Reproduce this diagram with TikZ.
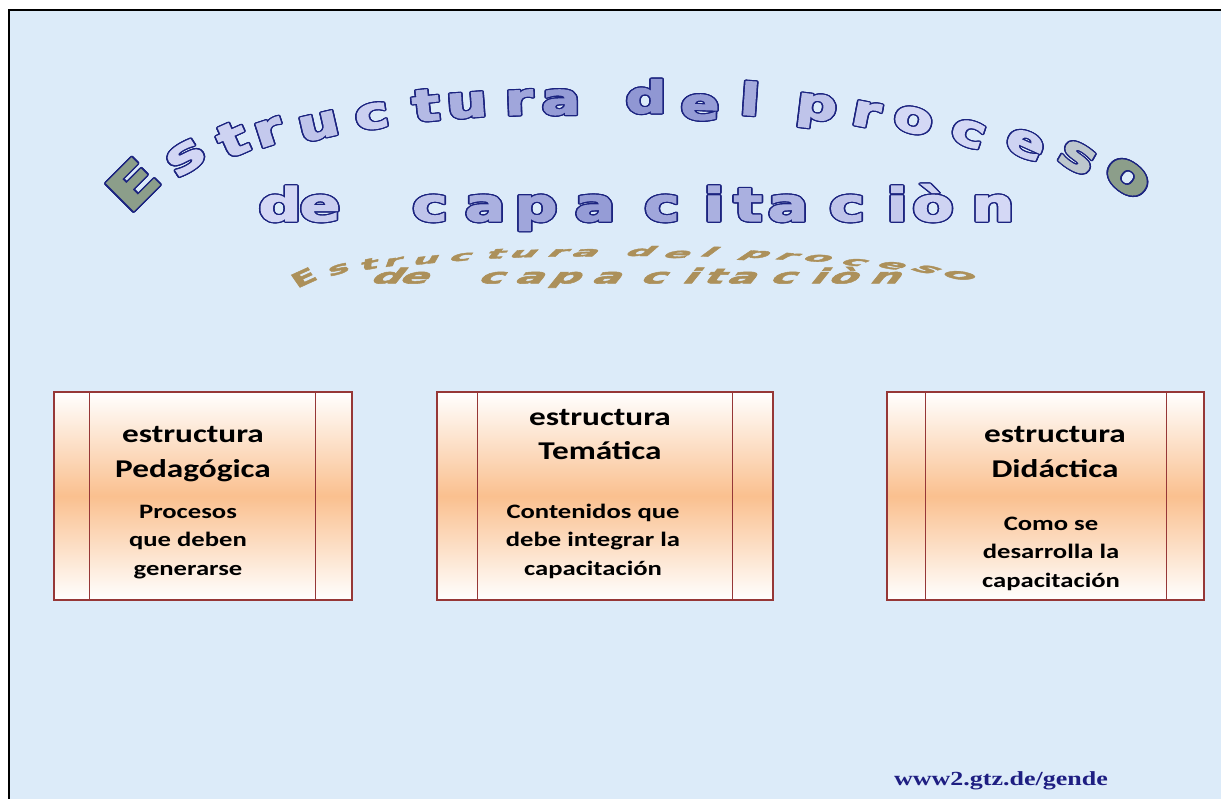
\documentclass[tikz,border=0pt]{standalone}
\usepackage{fontspec}
\usepackage[copies]{contour}
\setmainfont{Carlito}
\newfontfamily\wafont{DejaVu Sans Bold}[FakeBold=2.5]
\newfontfamily\footfont{Liberation Serif}
\contourlength{1.2pt}
\definecolor{slidebg}{RGB}{220,235,249}
\definecolor{boxorange}{RGB}{250,192,143}
\definecolor{boxred}{RGB}{150,55,55}
\definecolor{titlelight}{RGB}{222,226,250}
\definecolor{titledark}{RGB}{118,126,198}
\definecolor{titleend}{RGB}{140,158,138}
\definecolor{titleline}{RGB}{28,36,128}
\definecolor{shadowtan}{RGB}{172,144,90}
\definecolor{urlblue}{RGB}{30,30,130}
% arched first title row: x/y/angle/size/colour/letter
\newcommand\titlerowA{133/185/45/1.2/titleend/E,
 186/158/33/1.1/titledark!12!titlelight/s,
 233/140/24/1.05/titledark!15!titlelight/t,
 269/133/18/1/titledark!25!titlelight/r,
 319/127/13/1/titledark!30!titlelight/u,
 372/117/9/1/titledark!18!titlelight/c,
 426/106/6/1/titledark!40!titlelight/t,
 467/106/4/1/titledark!50!titlelight/u,
 519/103/2/1/titledark!60!titlelight/r,
 561/103/0/1/titledark!70!titlelight/a,
 646/97/0/1/titledark!75!titlelight/d,
 700/108/-2/1/titledark!70!titlelight/e,
 750/99/-4/1/titledark!55!titlelight/l,
 816/112/-7/1/titledark!30!titlelight/p,
 866/115/-11/1/titledark!20!titlelight/r,
 913/121/-15/1/titledark!10!titlelight/o,
 968/134/-19/1/titledark!10!titlelight/c,
 1025/145/-24/1/titledark!15!titlelight/e,
 1077/158/-30/1.05/titleend!40!titlelight/s,
 1127/178/-38/1.15/titleend/o}
% straight second title row: x/tone/letter
\newcommand\titlerowB{280/10/d, 320/20/e, 430/30/c, 485/50/a, 536/60/p,
 595/70/a, 662/60/c, 714/50/i, 748/50/t, 788/45/a, 847/30/c, 897/25/i,
 933/15/ò, 993/10/n}

\begin{document}
\begin{tikzpicture}[x=1pt,y=-1pt,
  wa/.style={inner sep=0pt, font=\wafont\fontsize{44}{44}\selectfont, transform shape},
  wb/.style={inner sep=0pt, anchor=base, font=\wafont\fontsize{46}{46}\selectfont, transform shape},
  procbox/.style={draw=boxred, line width=1.3pt, top color=white, bottom color=white,
    middle color=boxorange, minimum height=208pt, inner sep=0pt},
  boxline/.style={draw=boxred, line width=1.3pt},
  boxhead/.style={font=\bfseries\fontsize{25.6}{35}\selectfont, align=center, anchor=base,
    xscale=1.3, transform shape},
  boxtext/.style={font=\bfseries\fontsize{20.5}{28.5}\selectfont, align=center, anchor=base,
    xscale=1.3, transform shape}]
\useasboundingbox (0,0) rectangle (1221,799);
\fill[white] (0,0) rectangle (1221,799);
\fill[slidebg] (9,10) rectangle (1221,799);
\draw[line width=2pt] (9,799) -- (9,10) -- (1221,10);

% reflection of the title
\begin{scope}[shift={(216,222)}, xscale=0.66, yscale=0.3]
  \foreach \x/\y/\rot/\sz/\col/\ch [count=\i] in \titlerowA
    \node[wa, text=shadowtan, rotate=\rot, scale=\sz, xscale=1.3, xslant=0.4] (shA\i) at (\x,\y) {\ch};
\end{scope}
\begin{scope}[shift={(188,184)}, xscale=0.7, yscale=0.45]
  \foreach \x/\tone/\ch [count=\i] in \titlerowB
    \node[wb, text=shadowtan, xscale=1.3, xslant=0.4] (shB\i) at (\x,221) {\ch};
\end{scope}

% title
\foreach \x/\y/\rot/\sz/\col/\ch [count=\i] in \titlerowA
  \node[wa, text=\col, rotate=\rot, scale=\sz, xscale=1.3] (ttlA\i) at (\x,\y) {\contour{titleline}{\ch}};
\foreach \x/\tone/\ch [count=\i] in \titlerowB
  \node[wb, text=titledark!\tone!titlelight, xscale=1.3] (ttlB\i) at (\x,221) {\contour{titleline}{\ch}};

% boxes
\node[procbox, minimum width=298pt] (pedbox) at (203,496) {};
\node[procbox, minimum width=336pt] (tembox) at (605,496) {};
\node[procbox, minimum width=317pt] (didbox) at (1045.5,496) {};
\draw[boxline] ([xshift=36pt]pedbox.north west) -- ([xshift=36pt]pedbox.south west);
\draw[boxline] ([xshift=-37pt]pedbox.north east) -- ([xshift=-37pt]pedbox.south east);
\draw[boxline] ([xshift=41pt]tembox.north west) -- ([xshift=41pt]tembox.south west);
\draw[boxline] ([xshift=-41pt]tembox.north east) -- ([xshift=-41pt]tembox.south east);
\draw[boxline] ([xshift=39pt]didbox.north west) -- ([xshift=39pt]didbox.south west);
\draw[boxline] ([xshift=-38pt]didbox.north east) -- ([xshift=-38pt]didbox.south east);

\node[boxhead] (pedhead) at (193,477) {estructura\\Pedagógica};
\node[boxtext] (pedtext) at (188,575) {Procesos\\que deben\\generarse};
\node[boxhead] (temhead) at (600,460) {estructura\\Temática};
\node[boxtext] (temtext) at (593,575) {Contenidos que\\debe integrar la\\capacitación};
\node[boxhead] (didhead) at (1055,477) {estructura\\Didáctica};
\node[boxtext] (didtext) at (1051,587) {Como se\\desarrolla la\\capacitación};

\node[font=\footfont\bfseries\fontsize{20}{20}\selectfont, text=urlblue, anchor=base,
  xscale=1.3, transform shape] (weblink) at (1001,785) {www2.gtz.de/gende};
\end{tikzpicture}
\end{document}
